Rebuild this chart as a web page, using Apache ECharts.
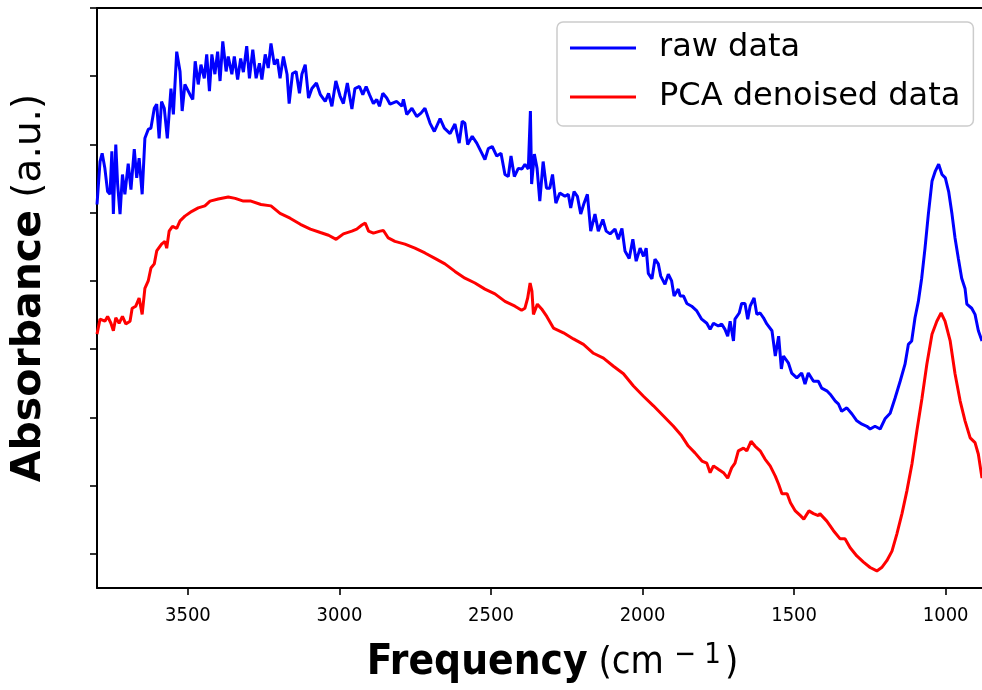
<!DOCTYPE html>
<html><head><meta charset="utf-8">
<script src="https://cdn.jsdelivr.net/npm/echarts@6/dist/echarts.min.js"></script>
<style>html,body{margin:0;padding:0;background:#fff}#c{width:982px;height:690px}</style>
</head><body><div id="c"></div>
<script>
// x: frequency (cm^-1), y: absorbance (a.u.)
const rawFreq = [3800,3790,3783,3774,3765,3757,3751,3746,3738,3732,3724,3716,3708,3697,3688,3677,3669,3661,3651,3642,3631,3622,3611,3603,3595,3587,3578,3568,3556,3548,3537,3526,3519,3510,3493,3484,3476,3466,3457,3446,3438,3429,3421,3411,3402,3394,3385,3374,3367,3355,3347,3336,3326,3317,3306,3297,3286,3275,3264,3256,3245,3235,3226,3215,3205,3196,3185,3173,3166,3155,3143,3132,3124,3113,3102,3091,3076,3063,3047,3036,3025,3012,2998,2987,2974,2959,2949,2934,2923,2912,2901,2888,2877,2868,2857,2844,2833,2811,2794,2789,2778,2761,2745,2731,2718,2701,2687,2668,2654,2635,2619,2605,2595,2586,2577,2562,2547,2530,2520,2509,2496,2481,2467,2454,2443,2434,2423,2410,2398,2388,2377,2370,2366,2357,2348,2339,2328,2317,2306,2297,2286,2273,2256,2245,2237,2226,2215,2204,2193,2182,2171,2157,2146,2131,2120,2107,2091,2080,2068,2058,2044,2032,2021,2008,1997,1988,1981,1969,1959,1948,1940,1926,1915,1904,1896,1882,1876,1865,1854,1838,1821,1805,1788,1777,1766,1750,1739,1728,1719,1711,1700,1695,1681,1673,1662,1653,1645,1632,1623,1612,1601,1590,1573,1562,1551,1542,1535,1519,1508,1491,1475,1464,1453,1436,1420,1409,1392,1381,1364,1354,1343,1326,1309,1293,1276,1260,1249,1233,1216,1200,1183,1167,1150,1134,1123,1112,1101,1090,1079,1068,1057,1045,1034,1023,1012,1001,990,979,969,958,947,936,930,914,903,892,880];
const rawAbs = [5.12,5.75,5.87,5.65,5.31,5.27,5.90,4.98,6.00,5.42,4.98,5.56,5.27,5.72,5.34,5.93,5.51,5.80,5.27,6.09,6.22,6.24,6.53,6.59,6.09,6.63,6.53,6.09,6.82,6.44,7.36,7.07,6.49,6.88,6.73,6.66,7.22,6.88,7.17,6.97,7.32,6.78,7.32,7.03,7.36,6.93,7.51,7.07,7.29,7.03,7.29,6.95,7.26,7.06,7.44,6.97,7.39,6.97,7.19,6.95,7.32,7.12,7.48,7.17,7.25,6.97,7.29,7.03,6.60,7.04,7.07,6.75,7.03,7.17,6.68,6.82,6.90,6.73,6.63,6.75,6.56,6.93,6.71,6.60,6.90,6.52,6.82,6.85,6.73,6.85,6.73,6.60,6.66,6.56,6.75,6.68,6.59,6.63,6.56,6.66,6.44,6.53,6.41,6.46,6.53,6.31,6.19,6.38,6.24,6.16,6.30,6.02,6.34,6.31,6.00,6.12,6.02,5.87,5.78,5.94,5.97,5.83,5.87,5.56,5.53,5.83,5.53,5.65,5.64,5.71,5.64,6.49,5.42,5.86,5.65,5.17,5.75,5.36,5.36,5.56,5.14,5.29,5.24,5.27,5.07,5.31,5.24,4.98,5.14,5.27,4.73,4.98,4.73,4.90,4.73,4.69,4.76,4.61,4.77,4.44,4.33,4.61,4.29,4.48,4.36,4.48,4.11,4.03,4.32,4.25,4.07,3.95,4.10,4.00,3.78,3.88,3.78,3.78,3.67,3.63,3.56,3.44,3.38,3.29,3.38,3.34,3.37,3.29,3.19,3.41,3.12,3.44,3.53,3.67,3.67,3.44,3.63,3.75,3.51,3.53,3.46,3.37,3.27,2.90,3.19,2.71,2.90,2.80,2.65,2.58,2.65,2.49,2.65,2.53,2.53,2.43,2.39,2.34,2.24,2.20,2.09,2.14,2.05,1.95,1.90,1.87,1.83,1.87,1.83,1.98,2.06,2.28,2.53,2.78,3.07,3.12,3.46,3.70,4.04,4.48,4.98,5.46,5.61,5.71,5.56,5.51,5.31,4.98,4.63,4.33,4.04,3.89,3.66,3.60,3.51,3.27,3.12];
const pcaFreq = [3800,3790,3774,3765,3754,3746,3738,3727,3716,3705,3691,3684,3672,3661,3651,3642,3631,3622,3611,3603,3587,3576,3570,3562,3551,3537,3526,3510,3487,3466,3444,3427,3400,3367,3344,3317,3292,3259,3226,3196,3163,3129,3096,3063,3036,3011,2987,2959,2943,2926,2915,2904,2888,2866,2855,2839,2817,2784,2751,2718,2685,2652,2619,2586,2553,2520,2487,2454,2421,2399,2388,2379,2371,2365,2360,2355,2347,2333,2316,2294,2261,2228,2195,2162,2129,2096,2063,2030,1997,1964,1931,1898,1871,1849,1827,1804,1788,1777,1766,1750,1733,1719,1706,1695,1684,1667,1656,1642,1629,1612,1596,1579,1562,1551,1540,1523,1512,1496,1479,1468,1451,1436,1420,1415,1392,1370,1348,1332,1315,1293,1271,1249,1227,1211,1194,1177,1161,1144,1128,1111,1095,1078,1062,1045,1029,1015,1002,985,969,952,936,919,903,892,880];
const pcaAbs = [3.22,3.44,3.41,3.48,3.38,3.27,3.46,3.38,3.48,3.37,3.41,3.60,3.63,3.75,3.51,3.89,4.00,4.19,4.25,4.44,4.54,4.58,4.48,4.73,4.80,4.77,4.88,4.95,5.02,5.07,5.10,5.17,5.20,5.23,5.21,5.17,5.17,5.12,5.10,4.99,4.92,4.83,4.76,4.71,4.67,4.61,4.69,4.73,4.76,4.82,4.85,4.73,4.70,4.73,4.74,4.63,4.58,4.54,4.48,4.41,4.33,4.25,4.14,4.04,3.97,3.88,3.81,3.70,3.63,3.57,3.60,3.75,3.97,3.85,3.51,3.51,3.66,3.59,3.48,3.31,3.24,3.15,3.07,2.94,2.87,2.75,2.64,2.46,2.31,2.17,2.02,1.87,1.73,1.58,1.48,1.36,1.33,1.19,1.29,1.24,1.19,1.11,1.26,1.33,1.51,1.55,1.51,1.65,1.58,1.51,1.39,1.29,1.14,1.02,0.88,0.88,0.75,0.63,0.56,0.51,0.63,0.59,0.56,0.59,0.48,0.34,0.22,0.22,0.09,-0.03,-0.12,-0.20,-0.25,-0.20,-0.10,0.04,0.29,0.59,0.92,1.32,1.80,2.28,2.78,3.22,3.41,3.53,3.41,3.12,2.64,2.24,1.95,1.70,1.63,1.46,1.11];
const xTicks = [1000,1500,2000,2500,3000,3500];
const yTicks = [0,1,2,3,4,5,6,7,8];
const seriesNames = ['raw data','PCA denoised data'];

const zip = (a,b) => a.map((v,i)=>[v,b[i]]);
const chart = echarts.init(document.getElementById('c'), null, {renderer:'canvas'});
chart.setOption({
  animation:false,
  backgroundColor:'#fff',
  grid:{left:97, top:8, right:0, bottom:102, containLabel:false},
  legend:{
    orient:'vertical', left:557, top:22,
    data:seriesNames,
    icon:'rect', itemWidth:66, itemHeight:3, itemGap:17,
    padding:[10,13,13,13],
    borderColor:'#cccccc', borderWidth:1.5, borderRadius:6, backgroundColor:'#fff',
    textStyle:{fontFamily:'DejaVu Sans', fontSize:32, color:'#000', padding:[0,0,0,18]}
  },
  xAxis:[{
    type:'value', inverse:true, min:880, max:3800,
    axisLine:{show:true, onZero:false, lineStyle:{color:'#000', width:2}},
    axisTick:{show:true, inside:false, length:7, lineStyle:{color:'#000', width:1.6}, customValues:xTicks},
    axisLabel:{show:true, customValues:xTicks, margin:18, formatter:(v)=>String(v),
      fontFamily:'DejaVu Sans Condensed', fontSize:20, color:'#000'},
    splitLine:{show:false},
    name:'{b|Frequency}{n| (cm}{s| − 1}{n|)}', nameLocation:'middle', nameGap:53,
    nameTextStyle:{padding:[0,0,0,26], rich:{
      b:{fontFamily:'DejaVu Sans Condensed', fontWeight:'bold', fontSize:42, color:'#000'},
      n:{fontFamily:'DejaVu Sans Condensed', fontSize:38, color:'#000'},
      s:{fontFamily:'DejaVu Sans Condensed', fontSize:29, color:'#000', verticalAlign:'top', padding:[0,4,16,2]}
    }}
  },{
    type:'value', position:'top', inverse:true, min:880, max:3800,
    axisLine:{show:true, onZero:false, lineStyle:{color:'#000', width:2}},
    axisTick:{show:false}, axisLabel:{show:false}, splitLine:{show:false}
  }],
  yAxis:{
    type:'value', min:-0.5, max:8,
    axisLine:{show:true, onZero:false, lineStyle:{color:'#000', width:2}},
    axisTick:{show:true, length:7, lineStyle:{color:'#000', width:1.6}, customValues:yTicks},
    axisLabel:{show:false},
    splitLine:{show:false},
    name:'{b|Absorbance}{n| (a.u.)}', nameLocation:'middle', nameGap:47, nameRotate:90,
    nameTextStyle:{padding:[0,0,0,20], rich:{
      b:{fontFamily:'DejaVu Sans', fontWeight:'bold', fontSize:41, color:'#000'},
      n:{fontFamily:'DejaVu Sans', fontSize:39, color:'#000'}
    }}
  },
  series:[{
    name:seriesNames[0], type:'line', data:zip(rawFreq,rawAbs), xAxisIndex:0,
    symbol:'none', lineStyle:{color:'#0000ff', width:3}, itemStyle:{color:'#0000ff'}
  },{
    name:seriesNames[1], type:'line', data:zip(pcaFreq,pcaAbs), xAxisIndex:0,
    symbol:'none', lineStyle:{color:'#ff0000', width:3}, itemStyle:{color:'#ff0000'}
  }]
});
</script></body></html>
